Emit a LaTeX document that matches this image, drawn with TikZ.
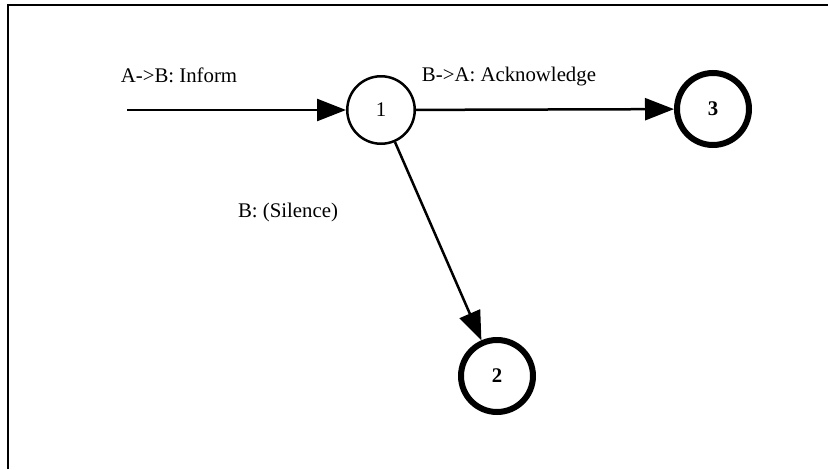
\documentclass[tikz,border=0pt]{standalone}
\usepackage{fontspec}
\setmainfont{Liberation Serif}
\usetikzlibrary{arrows.meta}
\begin{document}
\begin{tikzpicture}[x=1pt,y=-1pt,
  every node/.style={font=\fontsize{20.8}{24}\selectfont},
  state/.style={circle,draw,line width=2.5pt,minimum size=67.5pt,inner sep=0pt},
  finalstate/.style={circle,draw,line width=6pt,minimum size=72pt,inner sep=0pt,font=\fontsize{20.8}{24}\selectfont\bfseries},
  trans/.style={line width=2.5pt,-{Triangle[length=29pt,width=22pt]}},
  lbl/.style={anchor=base,inner sep=0pt}]
  \useasboundingbox (0,0) rectangle (828,469);
  % frame (top and left edges)
  \draw[line width=2pt] (8,469) -- (8,5) -- (828,5);
  % states
  \node[state] (n1) at (381,110) {1};
  \node[finalstate] (n3) at (713,109) {3};
  \node[finalstate] (n2) at (497,376) {2};
  \coordinate (start) at (127,110);
  % transitions
  \draw[trans] (start) -- (n1);
  \draw[trans] (n1) -- (n3);
  \draw[trans] (n1) -- (n2);
  % transition labels
  \node[lbl] (l1) at (179,82) {A->B: Inform};
  \node[lbl] (l2) at (509,81) {B->A: Acknowledge};
  \node[lbl] (l3) at (288,217) {B: (Silence)};
\end{tikzpicture}
\end{document}
